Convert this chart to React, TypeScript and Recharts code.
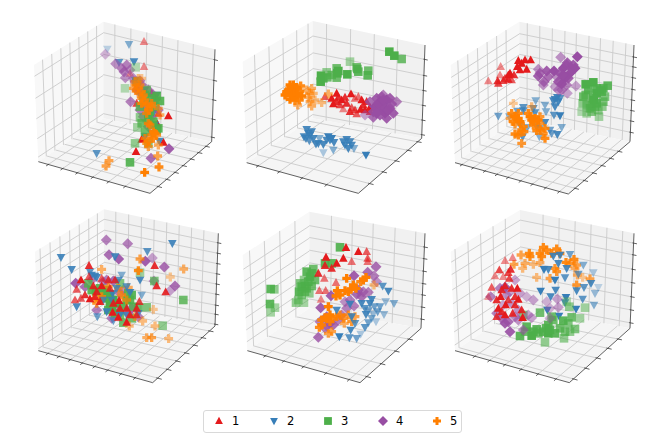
import { ScatterChart, Scatter, XAxis, YAxis, Legend } from 'recharts';

type Pt = [number, number, number];
type Xy = { x: number; y: number };

const seriesNames = ['1', '2', '3', '4', '5'];
const seriesColors = ['#e41a1c', '#377eb8', '#4daf4a', '#984ea3', '#ff7f00'];

const a1: Pt[] = [[372,95,.5],[372,170,.5],[445,318,1],[412,342,1],[365,388,1],[430,397,1],[348,425,1],[350,235,.7],[395,250,.8],[350,280,.8],[330,190,.5],[385,300,.8],[415,310,.9]];
const a2: Pt[] = [[262,117,.3],[327,103,.6],[297,157,.8],[342,155,.9],[230,430,.8],[418,393,.9],[375,380,1],[345,210,.8],[375,240,.8],[400,310,.9],[385,345,.9],[395,370,.9],[410,255,.9],[360,255,.8],[385,280,.8],[405,345,.9],[355,240,.8]];
const a3: Pt[] = [[347,172,.4],[315,235,.4],[352,352,.5],[345,400,.6],[330,457,.9],[410,258,.9],[420,273,.9],[360,322,.6],[385,312,.8],[380,240,.7],[395,345,.8],[410,360,.9],[405,290,.7],[370,275,.8],[415,355,.9],[390,305,.9],[385,400,.7],[350,215,.6],[375,255,.8],[395,265,.9],[360,290,.8],[385,330,.9],[400,335,.9],[375,365,.8],[365,340,.8]];
const a4: Pt[] = [[256,133,.4],[287,161,.6],[320,165,.7],[312,185,.7],[316,203,.6],[332,275,.7],[447,416,.9],[393,445,.8],[360,300,.7],[360,212,.7],[385,240,.7],[415,300,.7],[345,215,.7],[330,180,.6],[400,255,.7],[370,320,.7],[385,350,.7],[350,240,.7],[370,250,.7],[375,285,.8],[395,320,.7],[405,270,.7],[340,205,.6],[305,175,.7],[365,225,.7]];
const a5: Pt[] = [[267,452,.7],[258,468,.7],[374,487,1],[417,471,.9],[413,438,.7],[415,405,.6],[355,232,.7],[365,205,.4],[375,270,.8],[395,290,.8],[345,225,.6],[385,340,.8],[405,370,.9],[400,385,.9],[380,400,.8],[385,410,.7],[420,315,.6],[350,240,.7],[365,265,.8],[385,300,.9],[355,250,.7],[395,375,.9],[340,235,.7],[345,215,.6],[360,225,.7],[365,280,.9],[380,285,.9],[395,280,.8],[370,255,.8],[390,345,.8],[375,385,.8],[385,395,.8],[400,365,.9],[410,375,.8],[415,295,.6],[380,310,.8],[355,205,.5],[365,245,.7]];

const b1: Pt[] = [[285,260,.7],[320,250,1],[363,252,1],[310,282,1],[335,270,1],[350,280,.9],[340,297,.5],[365,293,.7],[360,305,.9],[380,312,.7],[385,260,.6],[395,270,1],[400,285,.9],[420,292,1],[392,298,1],[420,305,.9],[325,262,.9],[375,265,.6],[305,265,1],[345,262,.9],[410,275,.9],[405,300,1],[375,300,.8],[320,275,.9],[330,285,.8]];
const b2: Pt[] = [[230,358,.9],[245,365,.9],[222,380,.9],[238,392,.8],[258,402,.9],[268,385,.6],[280,403,.9],[280,428,.4],[295,380,1],[312,397,.9],[310,420,.6],[300,390,.9],[350,388,.9],[345,405,.9],[365,405,.9],[355,415,.9],[372,415,.6],[408,435,1],[240,375,.9],[265,400,.9],[235,370,.9],[228,385,.9],[290,390,.9],[305,385,1],[340,395,.9],[360,395,.9],[250,385,.9]];
const b3: Pt[] = [[478,125,1],[493,137,1],[515,147,.8],[360,155,.5],[320,175,.8],[290,187,.6],[322,190,1],[382,177,.9],[352,193,1],[415,182,.8],[413,196,.9],[273,197,1],[292,202,.8],[272,215,1],[320,203,.8],[380,172,.8],[325,183,1],[385,185,.9],[280,205,.9],[305,195,.8]];
const b4: Pt[] = [[460,255,.7],[500,275,.7],[440,265,.9],[470,270,1],[455,285,1],[485,282,.9],[435,290,1],[490,310,.9],[465,310,1],[430,322,.8],[405,315,.5],[445,300,1],[470,325,.9],[420,275,.8],[450,275,1],[465,295,1],[475,300,1],[445,280,.9],[455,260,.8],[480,265,.9],[430,305,.9],[450,315,.9],[480,295,.9],[440,310,1],[460,270,.9]];
const b5: Pt[] = [[180,225,1],[212,228,.9],[170,250,1],[195,240,1],[180,268,1],[215,258,1],[203,285,.6],[245,235,.6],[250,250,.5],[235,262,.6],[245,288,.6],[275,278,.5],[295,252,.6],[195,262,1],[175,240,1],[208,270,.9],[240,250,.6],[190,225,1],[200,232,1],[185,240,1],[170,245,1],[185,255,1],[200,250,1],[195,272,.9],[210,245,.9],[165,255,1],[230,240,.6],[255,270,.5],[240,275,.6]];

const c1: Pt[] = [[145,213,.5],[182,170,.5],[173,213,.9],[210,190,1],[235,152,1],[255,150,1],[272,150,1],[260,178,1],[232,170,1],[205,208,.9],[180,195,.5],[240,180,1],[215,210,.7],[175,220,.8],[205,195,1],[222,195,.9],[190,212,.8],[245,160,1],[195,205,.8]];
const c2: Pt[] = [[175,318,.7],[287,272,.6],[315,285,.6],[352,262,.9],[340,272,.9],[345,290,.9],[318,305,.6],[342,315,.8],[360,317,1],[250,302,.8],[232,303,.7],[285,308,.8],[208,320,.5],[315,337,.9],[365,352,.6],[240,345,.7],[262,352,.6],[300,355,.6],[335,370,.7],[352,373,.9],[248,380,.8],[298,380,.6],[360,265,.8],[345,268,.9],[355,275,.9],[250,292,.8],[280,295,.8],[330,360,.7],[290,350,.7]];
const c3: Pt[] = [[437,223,1],[460,217,1],[503,227,.9],[490,235,.9],[437,255,.8],[470,250,1],[428,280,.6],[462,270,1],[490,275,.7],[450,295,.8],[425,305,.4],[477,320,.5],[487,290,.6],[480,240,.9],[465,290,.8],[455,305,.7],[445,240,.9],[470,235,.9],[485,245,.9],[460,265,.9],[470,280,.9],[440,285,.7],[475,300,.6],[440,310,.5],[455,280,.8],[430,260,.8],[495,260,.7]];
const c4: Pt[] = [[412,140,1],[362,142,.6],[382,158,.9],[295,178,.6],[320,183,.9],[342,183,1],[405,175,1],[370,175,1],[390,190,1],[295,198,.9],[350,200,.6],[375,205,1],[312,215,.8],[310,225,.6],[365,222,1],[408,228,.5],[345,230,.5],[365,240,.7],[382,250,.5],[355,215,.9],[380,165,.9],[395,175,1],[385,205,.9],[370,195,1],[360,190,.9],[325,200,.8],[300,190,.8],[380,225,.7],[355,240,.6],[400,165,.9]];
const c5: Pt[] = [[220,280,.4],[275,290,.5],[215,310,.9],[235,325,1],[225,342,.8],[270,320,1],[285,325,1],[280,335,.9],[315,355,.9],[290,362,.9],[245,360,.9],[225,372,.9],[252,365,.9],[315,385,.9],[245,400,.8],[235,310,.9],[210,325,.6],[300,340,.8],[225,320,1],[220,335,.9],[240,335,1],[275,330,1],[265,310,.9],[295,330,1],[300,320,.8],[280,345,.9],[300,360,.9],[235,375,.9],[250,350,.9],[310,370,.8]];

const d1: Pt[] = [[207,197,.9],[404,197,.9],[183,240,1],[170,268,.7],[207,230,.7],[220,258,.9],[245,258,1],[245,235,.7],[285,240,.8],[410,258,.9],[437,276,.9],[165,300,.7],[183,295,.7],[210,297,1],[225,290,.9],[297,302,1],[320,325,.9],[278,337,1],[295,352,1],[320,367,1],[350,325,.9],[358,305,.8],[270,265,.8],[300,325,.9],[195,285,.9],[230,275,.9],[265,240,.8],[330,345,.9],[350,345,.8],[240,305,.9],[280,310,.9]];
const d2: Pt[] = [[123,172,.9],[155,208,.9],[285,170,.9],[382,154,.8],[457,130,.9],[225,228,.9],[210,215,.8],[305,225,.6],[360,240,.9],[230,232,.9],[365,285,.6],[170,320,.9],[232,350,.7],[260,335,.9],[280,362,.7],[330,277,.9],[355,340,.8],[278,280,.9],[300,345,.9],[295,240,.8],[215,225,.9],[290,265,.8],[250,300,.8],[320,345,.8],[275,300,.8],[320,260,.8]];
const d3: Pt[] = [[360,218,.5],[403,243,.7],[300,250,.7],[205,250,.8],[228,275,.9],[250,280,.9],[265,290,1],[325,280,.9],[330,300,.9],[270,310,1],[490,300,.8],[380,322,.7],[428,377,.6],[335,355,.8],[310,368,.8],[265,330,.9],[270,285,1],[310,320,.9],[355,322,.8],[240,265,.9],[260,295,1],[280,300,1],[275,320,1],[290,310,1],[320,300,.9],[335,285,.9],[260,270,.9],[215,270,.9],[340,320,.8],[300,345,.8],[285,340,.9]];
const d4: Pt[] = [[259,120,.7],[323,131,.7],[267,164,.8],[296,177,.9],[376,184,.9],[397,174,.5],[433,201,.8],[167,250,.9],[402,243,.6],[465,258,.8],[450,272,.5],[230,330,.7],[310,270,.6],[280,243,.8],[250,245,.7],[355,350,.7],[325,340,.7],[215,240,.7],[300,280,.7],[335,325,.7],[260,240,.7],[195,260,.8],[290,325,.7],[275,355,.7]];
const d5: Pt[] = [[360,177,.7],[355,212,.9],[245,208,.6],[491,207,.6],[451,231,.4],[400,328,.4],[368,363,.5],[405,378,.5],[380,413,.6],[395,413,.7],[446,416,.5],[240,300,.8],[222,297,.8],[305,285,.8],[328,378,.5],[325,262,.6],[230,310,.7],[245,290,.8],[320,300,.7],[295,265,.7],[345,350,.6],[265,260,.7]];

const e1: Pt[] = [[348,143,1],[288,172,1],[385,155,1],[410,155,.7],[340,175,1],[365,185,.6],[413,185,.6],[285,197,.9],[320,190,1],[305,205,.9],[265,220,.9],[283,235,.6],[318,248,.6],[268,272,.6],[287,272,.6],[273,298,.5],[413,175,.7]];
const e2: Pt[] = [[458,258,.8],[475,273,.9],[467,305,.5],[492,310,.6],[425,298,.9],[395,310,.9],[360,312,.9],[320,330,.9],[365,350,.9],[415,332,.7],[433,320,.7],[443,335,.7],[462,343,.5],[430,342,.5],[408,343,.9],[438,365,.4],[415,368,.7],[405,382,.8],[362,390,.9],[328,410,1],[358,413,.8],[380,415,.7],[392,402,.4],[420,310,.9],[405,325,.8],[450,320,.7],[425,355,.6],[375,370,.8]];
const e3: Pt[] = [[330,142,.9],[250,207,.8],[305,190,.9],[240,230,.9],[222,240,.6],[225,258,.9],[245,258,.8],[207,275,.9],[238,280,.6],[215,285,.7],[122,267,.9],[133,268,.6],[120,312,.9],[135,323,.5],[122,337,.5],[198,308,.6],[222,308,.5],[285,190,.9],[230,265,.8],[230,215,.9],[245,220,.9],[255,240,.8],[215,260,.9],[210,250,.7],[235,245,.9],[205,300,.6],[225,275,.8]];
const e4: Pt[] = [[438,200,.8],[372,227,.9],[413,217,.8],[432,228,.7],[440,245,.6],[303,287,.9],[380,283,.8],[400,275,.7],[415,277,.7],[345,305,.6],[372,318,.7],[272,323,.9],[350,325,.7],[270,365,.7],[290,378,.6],[310,375,.8],[265,412,.8],[335,345,.7],[385,270,.8],[395,290,.8],[360,300,.7],[290,350,.8],[300,370,.8],[285,385,.7],[325,360,.7]];
const e5: Pt[] = [[350,235,1],[408,232,1],[392,245,.9],[370,255,1],[362,268,1],[345,272,1],[322,272,1],[318,288,1],[295,320,1],[432,255,.5],[285,353,1],[268,382,.9],[308,355,.9],[330,345,.8],[295,400,.7],[305,395,.7],[343,370,.6],[365,365,.8],[275,360,.9],[355,345,.8],[378,265,1],[400,240,1],[355,275,1],[330,285,1],[290,355,1],[300,345,1],[320,350,.9],[275,375,.9],[340,355,.8],[300,365,.9],[375,350,.7]];

const f1: Pt[] = [[218,173,.5],[195,182,.5],[178,210,.8],[212,208,.9],[165,228,.5],[190,230,.5],[208,235,.8],[155,262,.7],[195,258,.9],[232,265,1],[145,290,.4],[182,290,1],[235,298,1],[197,315,1],[175,325,1],[225,315,.9],[245,330,.9],[170,350,.8],[195,345,1],[218,340,.9],[248,353,1],[205,218,.8],[185,270,.9],[215,265,.9],[170,300,.9],[205,300,.8],[185,335,.9],[225,290,.9]];
const f2: Pt[] = [[340,168,.9],[390,163,.7],[355,190,.9],[312,208,1],[325,208,.9],[380,205,.9],[430,195,.6],[415,222,.7],[460,218,.4],[345,240,1],[375,233,.8],[453,250,.9],[475,262,.3],[432,262,.8],[410,272,.9],[465,280,.5],[302,273,1],[347,270,.9],[332,290,.9],[428,297,.8],[378,292,1],[462,315,.6],[322,330,1],[408,327,1],[357,348,1],[375,308,.9],[360,165,.9]];
const f3: Pt[] = [[380,305,.4],[388,320,.6],[435,323,.5],[300,338,.8],[335,350,.8],[420,355,.5],[395,352,.8],[370,362,.9],[260,380,.9],[290,388,.9],[325,375,.9],[318,385,.9],[405,387,.7],[240,408,.9],[275,407,1],[295,400,.8],[325,400,1],[345,400,.9],[375,395,.7],[372,415,.6],[315,427,.6],[250,345,.7],[390,395,.6],[340,360,.8],[310,395,.9],[280,395,.9],[360,385,.8],[255,395,.8],[330,390,.9],[385,370,.7]];
const f4: Pt[] = [[225,240,.5],[195,262,.9],[152,290,.7],[260,290,.4],[280,300,.5],[320,305,.4],[352,297,.5],[355,322,.5],[190,315,.5],[170,340,.7],[235,330,.6],[195,370,.9],[210,395,.9],[235,360,.6],[275,353,.5],[250,390,.6],[210,275,.5],[330,355,.4],[180,265,.7],[200,285,.6],[215,310,.6],[240,280,.5],[185,355,.8],[205,365,.8],[225,350,.6],[265,345,.5],[330,325,.4]];
const f5: Pt[] = [[310,142,.9],[350,147,.9],[268,160,.9],[243,165,.7],[360,160,.9],[305,170,.9],[222,193,.7],[248,205,.5],[280,193,.5],[300,188,.6],[378,187,.9],[402,178,.9],[345,205,.8],[405,205,.6],[412,225,.6],[290,232,.5],[330,235,.7],[428,232,.4],[450,237,.7],[410,255,.8],[255,190,.6],[320,150,.9],[335,160,.9],[300,160,.9],[350,215,.8],[390,190,.8],[410,195,.7],[270,170,.9]];

// box corners [x, y] per panel: left top, left bottom, back top, back bottom, right top, right bottom, front
const panels = [
    { left: 20, top: 10, series: [a1, a2, a3, a4, a5], order: [0, 1, 3, 2, 4], box: [[42,165],[55,455],[250,35],[250,325],[585,118],[575,395],[390,550]], xTicks: [.1,.24,.38,.52,.66,.8], yTicks: [.12,.25,.38,.51,.64,.77,.9], zTicks: [.05,.25,.46,.67,.89] },
    { left: 230, top: 10, series: [b1, b2, b3, b4, b5], order: [0, 1, 3, 2, 4], box: [[38,155],[50,458],[248,33],[248,325],[585,105],[575,385],[385,550]], xTicks: [.12,.33,.54,.75], yTicks: [.16,.36,.56,.76,.93], zTicks: [.04,.2,.36,.52,.68,.85] },
    { left: 440, top: 10, series: [c1, c2, c3, c4, c5], order: [0, 1, 3, 2, 4], box: [[32,165],[45,458],[238,35],[238,325],[582,105],[570,395],[385,552]], xTicks: [.07,.18,.29,.4,.5,.61,.71,.82,.93], yTicks: [.1,.24,.38,.52,.66,.8], zTicks: [.1,.22,.33,.44,.55,.67,.78,.88] },
    { left: 20, top: 200, series: [d1, d2, d3, d4, d5], order: [3, 2, 4, 1, 0], box: [[45,155],[55,452],[252,28],[252,318],[595,100],[585,378],[398,548]], xTicks: [.1,.21,.32,.43,.54,.65,.76,.87], yTicks: [.07,.21,.35,.49,.63,.77,.9], zTicks: [.02,.13,.23,.35,.46,.57,.68,.79,.9] },
    { left: 230, top: 200, series: [e1, e2, e3, e4, e5], order: [2, 0, 3, 4, 1], box: [[38,165],[52,452],[238,35],[238,325],[585,100],[573,385],[390,548]], xTicks: [.19,.37,.55,.74,.92], yTicks: [.1,.32,.55,.78], zTicks: [.1,.23,.36,.48,.61,.74,.86] },
    { left: 440, top: 200, series: [f1, f2, f3, f4, f5], order: [4, 1, 2, 3, 0], box: [[32,155],[45,452],[240,30],[240,322],[582,100],[570,385],[388,548]], xTicks: [.2,.34,.48,.62,.76,.9], yTicks: [.06,.24,.42,.6,.78], zTicks: [.06,.2,.34,.49,.63,.78,.9] },
];

const homography = (p00: number[], p10: number[], p11: number[], p01: number[]) => {
    const dx1 = p10[0] - p11[0];
    const dx2 = p01[0] - p11[0];
    const sx = p00[0] - p10[0] + p11[0] - p01[0];
    const dy1 = p10[1] - p11[1];
    const dy2 = p01[1] - p11[1];
    const sy = p00[1] - p10[1] + p11[1] - p01[1];
    const det = dx1 * dy2 - dx2 * dy1;
    const g = (sx * dy2 - dx2 * sy) / det;
    const h = (dx1 * sy - sx * dy1) / det;
    const a = p10[0] - p00[0] + g * p10[0];
    const b = p01[0] - p00[0] + h * p01[0];
    const d = p10[1] - p00[1] + g * p10[1];
    const e = p01[1] - p00[1] + h * p01[1];
    return (u: number, v: number): Xy => {
        const w = g * u + h * v + 1;
        return { x: (a * u + b * v + p00[0]) / w, y: (d * u + e * v + p00[1]) / w };
    };
};

const markerPaths = [
    'M0,-4.2 L3.9,3 L-3.9,3 Z',
    'M0,4.2 L3.9,-3 L-3.9,-3 Z',
    'M-3.9,-3.9 H3.9 V3.9 H-3.9 Z',
    'M0,-5 L5,0 L0,5 L-5,0 Z',
    'M-1.5,-4 H1.5 V-1.5 H4 V1.5 H1.5 V4 H-1.5 V1.5 H-4 V-1.5 H-1.5 Z',
];

const Marker = ({ cx, cy, index, opacity, scale = 1 }: { cx: number; cy: number; index: number; opacity: number; scale?: number }) => (
    <path
        transform={`translate(${cx},${cy}) scale(${scale})`}
        d={markerPaths[index]}
        fill={seriesColors[index]}
        fillOpacity={opacity}
    />
);

const noDot = () => <g />;

const paneLine = (fill: string) => (props: any) => (
    <polygon points={props.points.map((p: Xy) => `${p.x},${p.y}`).join(' ')} fill={fill} />
);

// consecutive pairs of points are separate strokes
const segmentsLine = (stroke: string, width: number) => (props: any) => {
    const pts: Xy[] = props.points;
    let d = '';
    for (let i = 0; i + 1 < pts.length; i += 2) {
        d += `M${pts[i].x},${pts[i].y}L${pts[i + 1].x},${pts[i + 1].y}`;
    }
    return <path d={d} stroke={stroke} strokeWidth={width} fill="none" />;
};

const Panel = ({ panel }: { panel: (typeof panels)[number] }) => {
    const [lt, lb, bt, bb, rt, rb, fr] = panel.box;
    const floor = homography(lb, fr, rb, bb);
    const leftWall = homography(lb, bb, bt, lt);
    const rightWall = homography(bb, rb, rt, bt);
    const xy = (p: number[]): Xy => ({ x: p[0], y: p[1] });

    const grid: Xy[] = [];
    panel.xTicks.forEach((u) => {
        grid.push(floor(u, 0), floor(u, 1), rightWall(u, 0), rightWall(u, 1));
    });
    panel.yTicks.forEach((v) => {
        grid.push(floor(0, v), floor(1, v), leftWall(v, 0), leftWall(v, 1));
    });
    panel.zTicks.forEach((z) => {
        grid.push(leftWall(0, z), leftWall(1, z), rightWall(0, z), rightWall(1, z));
    });

    const axes: Xy[] = [xy(lb), xy(fr), xy(fr), xy(rb), xy(rb), xy(rt)];
    panel.xTicks.forEach((u) => axes.push(floor(u, -0.03), floor(u, 0.01)));
    panel.yTicks.forEach((v) => axes.push(floor(1.03, v), floor(0.99, v)));
    panel.zTicks.forEach((z) => axes.push(rightWall(0.99, z), rightWall(1.03, z)));

    return (
        <div style={{ position: 'absolute', left: panel.left, top: panel.top }}>
            <ScatterChart width={210} height={190} margin={{ top: 0, right: 0, bottom: 0, left: 0 }}>
                <XAxis type="number" dataKey="x" domain={[0, 630]} hide />
                <YAxis type="number" dataKey="y" domain={[0, 570]} reversed hide />
                <Scatter data={[lb, bb, bt, lt].map(xy)} shape={noDot} line={paneLine('#f8f8f8')} isAnimationActive={false} />
                <Scatter data={[bb, rb, rt, bt].map(xy)} shape={noDot} line={paneLine('#f1f1f1')} isAnimationActive={false} />
                <Scatter data={[lb, fr, rb, bb].map(xy)} shape={noDot} line={paneLine('#f5f5f5')} isAnimationActive={false} />
                <Scatter data={grid} shape={noDot} line={segmentsLine('#cbcbcb', 0.9)} isAnimationActive={false} />
                <Scatter data={axes} shape={noDot} line={segmentsLine('#3a3a3a', 0.8)} isAnimationActive={false} />
                {panel.order.map((s) => (
                    <Scatter
                        key={s}
                        name={seriesNames[s]}
                        data={panel.series[s].map(([x, y, depth]) => ({ x, y, depth }))}
                        shape={(p: any) => <Marker cx={p.cx} cy={p.cy} index={s} opacity={p.payload.depth} scale={1.1} />}
                        isAnimationActive={false}
                    />
                ))}
            </ScatterChart>
        </div>
    );
};

const legendX = [16, 71, 125, 180, 234];

const renderLegend = (props: any) => (
    <div style={{ position: 'relative', width: 257, height: 21, border: '1px solid #d9d9d9', borderRadius: 3, background: '#fff', fontFamily: '"DejaVu Sans"', fontSize: 11.5, color: '#000' }}>
        {(props.payload || []).map((entry: any, i: number) => (
            <div key={entry.value}>
                <svg width={12} height={12} style={{ position: 'absolute', left: legendX[i] - 7, top: 4 }}>
                    <Marker cx={6} cy={6} index={i} opacity={1} />
                </svg>
                <span style={{ position: 'absolute', left: legendX[i] + 12, top: 3, lineHeight: '14px' }}>{entry.value}</span>
            </div>
        ))}
    </div>
);

export default function App() {
    return (
        <div style={{ position: 'absolute', left: 0, top: 0, width: 665, height: 437, background: '#fff', overflow: 'hidden' }}>
            {panels.map((panel) => (
                <Panel key={`${panel.left}-${panel.top}`} panel={panel} />
            ))}
            <div style={{ position: 'absolute', left: 203, top: 410 }}>
                <ScatterChart width={259} height={23} margin={{ top: 0, right: 0, bottom: 0, left: 0 }}>
                    <XAxis type="number" dataKey="x" hide />
                    <YAxis type="number" dataKey="y" hide />
                    {seriesNames.map((name, i) => (
                        <Scatter key={name} name={name} data={[]} fill={seriesColors[i]} isAnimationActive={false} />
                    ))}
                    <Legend content={renderLegend} wrapperStyle={{ left: 0, top: 0, width: 259, height: 23 }} />
                </ScatterChart>
            </div>
        </div>
    );
}
